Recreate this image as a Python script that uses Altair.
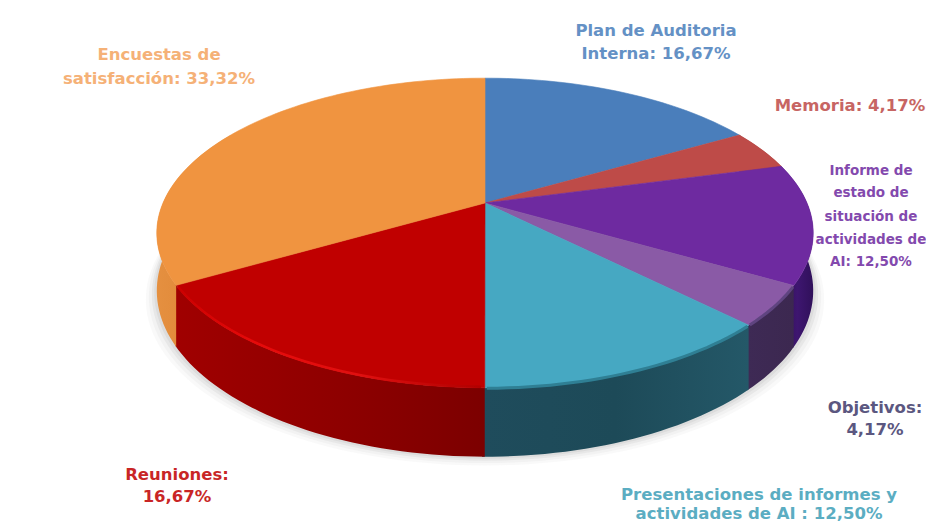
import math
import altair as alt
import pandas as pd

# --- chart values ---
categories = ["Plan de Auditoria Interna", "Memoria", "Informe de estado de situación de actividades de AI",
              "Objetivos", "Presentaciones de informes y actividades de AI", "Reuniones", "Encuestas de satisfacción"]
shares = [16.67, 4.17, 12.50, 4.17, 12.50, 16.67, 33.32]

# --- styles ---
top_colors = ["#4a7ebb", "#be4b48", "#6e2aa0", "#8a5aa6", "#46a8c2", "#c00000", "#f09440"]
side_colors = [
    ["#2f5585", "#2f5585"], ["#8a3533", "#8a3533"], ["#2f0f55", "#3e1670", "#30105a"],
    ["#3e2a55", "#3c2850"], ["#1f4c5c", "#1d4a58", "#245868"], ["#a00000", "#8f0000", "#7c0000"],
    ["#e59040", "#e08838", "#e08838"],
]
rim_colors = [None, None, None, "#5f4480", "#2f7f94", None, None]
label_lines = [
    (["Plan de Auditoria", "Interna: 16,67%"], "#4a7ebb", 656, [31, 54], 16.5),
    (["Memoria: 4,17%"], "#be4b48", 850, [106], 16.5),
    (["Informe de", "estado de", "situación de", "actividades de", "AI: 12,50%"], "#6e2aa0", 871, [171, 193, 217, 240, 262], 13.5),
    (["Objetivos:", "4,17%"], "#3f3a6a", 875, [408, 430], 16.5),
    (["Presentaciones de informes y", "actividades de AI : 12,50%"], "#3f9fb8", 759, [495, 514], 16.5),
    (["Reuniones:", "16,67%"], "#c00000", 177, [475, 497], 16.5),
    (["Encuestas de", "satisfacción: 33,32%"], "#f4a460", 159, [55, 79], 16.5),
]

# --- page geometry of the perspective disc ---
CX, CY, RX, RY, K, DEPTH = 485, 203, 322, 149, 0.1935, 55.6
W, H = 918, 515


def proj(theta_deg, depth=0.0, scale=1.0):
    t = math.radians(theta_deg)
    u, v = math.sin(t), math.cos(t)
    d = 1 + K * v
    return CX + scale * RX * u / d, CY - scale * RY * v / d + depth * DEPTH / d


def steps(a, b, n=None):
    n = n or max(2, int(abs(b - a) / 1.5))
    return [a + (b - a) * i / n for i in range(n + 1)]


x_scale = alt.Scale(domain=[8, 8 + W], nice=False, zero=False)
y_scale = alt.Scale(domain=[8 + H, 8], nice=False, zero=False)
enc = dict(
    x=alt.X("x:Q", scale=x_scale, axis=None),
    y=alt.Y("y:Q", scale=y_scale, axis=None),
    order=alt.Order("i:Q"),
)


def poly(points, fill, opacity=1.0, edge=None):
    df = pd.DataFrame([{"x": p[0], "y": p[1], "i": i} for i, p in enumerate(points + points[:1])])
    return alt.Chart(df).mark_line(fill=fill, fillOpacity=opacity, stroke=edge or "transparent",
                                   strokeWidth=0.6 if edge else 0).encode(**enc)


def hgrad(cols):
    stops = [alt.GradientStop(offset=i / (len(cols) - 1), color=c) for i, c in enumerate(cols)]
    return alt.Gradient(gradient="linear", stops=stops, x1=0, x2=1, y1=0, y2=0)


layers = []

# soft shadow under the disc
for off, op in [(11, 0.06), (8, 0.08), (5, 0.12), (2.5, 0.16)]:
    pts = [(proj(t, 1, 1 + off / 330.0)[0], proj(t, 1, 1)[1] + off * 0.8) for t in steps(60, 300, 120)]
    layers.append(poly(pts, "#a0a0a0", op))

cum = [0.0]
for s in shares:
    cum.append(cum[-1] + s)
ang = [c / cum[-1] * 360 for c in cum]

# side walls (each runs a hair under its neighbour so no seam shows)
for i in range(len(shares)):
    a, b = ang[i], ang[i + 1]
    lo, hi = max(a, 60), min(b + 0.4, 300)
    if hi <= lo:
        continue
    ts = steps(lo, hi)
    pts = [proj(t) for t in ts] + [proj(t, 1) for t in reversed(ts)]
    layers.append(poly(pts, hgrad(side_colors[i])))

# top slices
for i in range(len(shares)):
    ts = steps(ang[i], ang[i + 1])
    pts = [(CX, CY)] + [proj(t) for t in ts]
    layers.append(poly(pts, top_colors[i], edge=top_colors[i]))

# soft rims on the front slices
for i, col in enumerate(rim_colors):
    if col:
        df = pd.DataFrame([{"x": proj(t)[0], "y": proj(t)[1] + 0.5, "i": j} for j, t in enumerate(steps(ang[i] + 0.3, ang[i + 1] - 0.3))])
        layers.append(alt.Chart(df).mark_line(strokeWidth=3, stroke=col).encode(**enc))

# rim highlight on the red slice
rim = pd.DataFrame([{"x": proj(t)[0], "y": proj(t)[1] - 1, "i": j} for j, t in enumerate(steps(ang[5] + 0.5, ang[6] - 1))])
layers.append(alt.Chart(rim).mark_line(
    strokeWidth=2.5,
    stroke=alt.Gradient(gradient="linear", x1=0, x2=1, y1=0, y2=0, stops=[
        alt.GradientStop(offset=0, color="#cc0000"), alt.GradientStop(offset=0.25, color="#e60a0a"),
        alt.GradientStop(offset=0.6, color="#e01010"), alt.GradientStop(offset=1, color="#b00000")]),
).encode(**enc))

# labels
for lines, col, px, pys, size in label_lines:
    for line, py in zip(lines, pys):
        layers.append(alt.Chart(pd.DataFrame({"t": [line]})).mark_text(
            font="DejaVu Sans", fontWeight="bold", fontSize=size, color=col, align="center", baseline="middle",
            opacity=0.85,
        ).encode(text="t:N", x=alt.value(px - 8), y=alt.value(py - 8)))

chart = alt.layer(*layers).properties(
    width=W, height=H, padding=0, autosize=alt.AutoSizeParams(type="none"),
    background="white",
).configure_view(stroke=None)

chart.save("out.html", embed_options={"renderer": "svg", "actions": False})
